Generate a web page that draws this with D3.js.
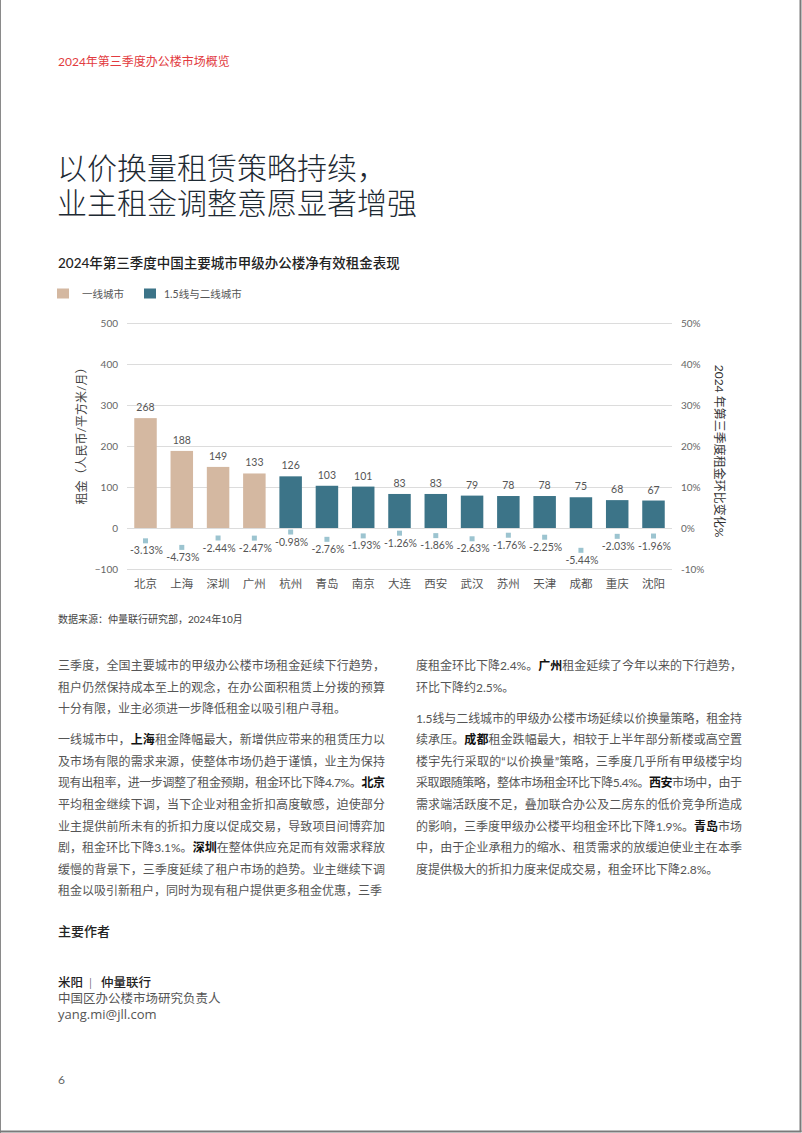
<!DOCTYPE html>
<html lang="zh">
<head>
<meta charset="UTF-8">
<title>2024年第三季度办公楼市场概览</title>
<script src="https://d3js.org/d3.v7.min.js"></script>
<style>
  body { margin: 0; background: #fff; }
  svg { display: block; font-family: Lato, "Noto Sans CJK SC", sans-serif; }
</style>
</head>
<body>
<div id="page"></div>
<script>
// chart data
const cities = ["北京", "上海", "深圳", "广州", "杭州", "青岛", "南京", "大连", "西安", "武汉", "苏州", "天津", "成都", "重庆", "沈阳"];
const rents = [268, 188, 149, 133, 126, 103, 101, 83, 83, 79, 78, 78, 75, 68, 67];
const changes = [-3.13, -4.73, -2.44, -2.47, -0.98, -2.76, -1.93, -1.26, -1.86, -2.63, -1.76, -2.25, -5.44, -2.03, -1.96];
const tiers = ["一线城市", "一线城市", "一线城市", "一线城市", "1.5线与二线城市", "1.5线与二线城市", "1.5线与二线城市", "1.5线与二线城市", "1.5线与二线城市", "1.5线与二线城市", "1.5线与二线城市", "1.5线与二线城市", "1.5线与二线城市", "1.5线与二线城市", "1.5线与二线城市"];
const tierNames = ["一线城市", "1.5线与二线城市"];
const rentTicks = [-100, 0, 100, 200, 300, 400, 500];
const pctTicks = [-10, 0, 10, 20, 30, 40, 50];

// body text, one entry per printed line; **x** marks bold
const leftLines = [
  ["三季度，全国主要城市的甲级办公楼市场租金延续下行趋势，", "租户仍然保持成本至上的观念，在办公面积租赁上分拨的预算", "十分有限，业主必须进一步降低租金以吸引租户寻租。"],
  ["一线城市中，**上海**租金降幅最大，新增供应带来的租赁压力以", "及市场有限的需求来源，使整体市场仍趋于谨慎，业主为保持", "现有出租率，进一步调整了租金预期，租金环比下降4.7%。**北京**", "平均租金继续下调，当下企业对租金折扣高度敏感，迫使部分", "业主提供前所未有的折扣力度以促成交易，导致项目间博弈加", "剧，租金环比下降3.1%。**深圳**在整体供应充足而有效需求释放", "缓慢的背景下，三季度延续了租户市场的趋势。业主继续下调", "租金以吸引新租户，同时为现有租户提供更多租金优惠，三季"]
];
const rightLines = [
  ["度租金环比下降2.4%。**广州**租金延续了今年以来的下行趋势，", "环比下降约2.5%。"],
  ["1.5线与二线城市的甲级办公楼市场延续以价换量策略，租金持", "续承压。**成都**租金跌幅最大，相较于上半年部分新楼或高空置", "楼宇先行采取的“以价换量”策略，三季度几乎所有甲级楼宇均", "采取跟随策略，整体市场租金环比下降5.4%。**西安**市场中，由于", "需求端活跃度不足，叠加联合办公及二房东的低价竞争所造成", "的影响，三季度甲级办公楼平均租金环比下降1.9%。**青岛**市场", "中，由于企业承租力的缩水、租赁需求的放缓迫使业主在本季", "度提供极大的折扣力度来促成交易，租金环比下降2.8%。"]
];

const W = 802, H = 1133;
const tierColor = d3.scaleOrdinal().domain(tierNames).range(["#d4b8a1", "#3c7488"]);

const svg = d3.select("#page").append("svg")
  .attr("width", W).attr("height", H);

// page frame
svg.append("line").attr("x1", 0.5).attr("x2", 0.5).attr("y1", 0).attr("y2", H).attr("stroke", "#8a8a8a").attr("stroke-width", 1);
svg.append("line").attr("x1", 800.5).attr("x2", 800.5).attr("y1", 0).attr("y2", 1132).attr("stroke", "#7a7a7a").attr("stroke-width", 2);
svg.append("line").attr("x1", 0).attr("x2", 801.5).attr("y1", 1131.5).attr("y2", 1131.5).attr("stroke", "#7a7a7a").attr("stroke-width", 2);

// header + titles
svg.append("text").attr("x", 58).attr("y", 66).attr("font-size", 12).attr("fill", "#e23b40")
  .text("2024年第三季度办公楼市场概览");
svg.append("text").attr("x", 57).attr("y", 179).attr("font-size", 30).attr("font-weight", 300).attr("fill", "#1e2a33")
  .text("以价换量租赁策略持续，");
svg.append("text").attr("x", 57).attr("y", 214).attr("font-size", 30).attr("font-weight", 300).attr("fill", "#1e2a33")
  .text("业主租金调整意愿显著增强");
svg.append("text").attr("x", 58).attr("y", 268).attr("font-size", 13.5).attr("font-weight", 500).attr("fill", "#222")
  .text("2024年第三季度中国主要城市甲级办公楼净有效租金表现");

// legend
const legendX = [57, 144];
tierNames.forEach((t, i) => {
  svg.append("rect").attr("x", legendX[i]).attr("y", 288.5).attr("width", 12).attr("height", 10).attr("fill", tierColor(t));
  svg.append("text").attr("x", legendX[i] + (i === 0 ? 25 : 20)).attr("y", 297.5).attr("font-size", 10.5).attr("fill", "#555").text(t);
});

// chart
const x = d3.scaleBand().domain(cities).range([127, 672]).paddingInner(0.38).paddingOuter(0.2);
const y = d3.scaleLinear().domain([-100, 500]).range([569, 323]);
const y2 = d3.scaleLinear().domain([-10, 50]).range([569, 323]);

const grid = svg.append("g").attr("transform", "translate(127,0)")
  .call(d3.axisLeft(y).tickValues(rentTicks).tickSize(-545).tickFormat(""));
grid.select(".domain").remove();
grid.selectAll("line").attr("stroke", "#dcdcdc");

const yAxis = svg.append("g").attr("transform", "translate(127,0)")
  .call(d3.axisLeft(y).tickValues(rentTicks).tickSize(0).tickPadding(9));
yAxis.select(".domain").remove();
yAxis.selectAll("text").attr("font-size", 10).attr("fill", "#666").attr("font-family", "Lato, sans-serif");

const y2Axis = svg.append("g").attr("transform", "translate(672,0)")
  .call(d3.axisRight(y2).tickValues(pctTicks).tickSize(0).tickPadding(9).tickFormat(d => d + "%"));
y2Axis.select(".domain").remove();
y2Axis.selectAll("text").attr("font-size", 10).attr("fill", "#666").attr("font-family", "Lato, sans-serif");

const xAxis = svg.append("g").attr("transform", "translate(0,569)")
  .call(d3.axisBottom(x).tickSize(0).tickPadding(11));
xAxis.select(".domain").remove();
xAxis.selectAll("text").attr("font-size", 11.5).attr("fill", "#555").attr("font-family", "Noto Sans CJK SC, sans-serif");

// axis titles
svg.append("text").attr("transform", "translate(86,433) rotate(-90)").attr("text-anchor", "middle")
  .attr("font-size", 12).attr("fill", "#444").text("租金（人民币/平方米/月）");
svg.append("text").attr("transform", "translate(715,451) rotate(90)").attr("text-anchor", "middle")
  .attr("font-size", 12).attr("fill", "#333").text("2024 年第三季度租金环比变化%");

const rows = cities.map((c, i) => ({ city: c, rent: rents[i], change: changes[i], tier: tiers[i] }));

svg.selectAll(".bar").data(rows).enter().append("rect")
  .attr("class", "bar")
  .attr("x", d => x(d.city))
  .attr("width", x.bandwidth())
  .attr("y", d => y(d.rent))
  .attr("height", d => y(0) - y(d.rent))
  .attr("fill", d => tierColor(d.tier));

svg.selectAll(".val").data(rows).enter().append("text")
  .attr("class", "val")
  .attr("x", d => x(d.city) + x.bandwidth() / 2)
  .attr("y", d => y(d.rent) - 7)
  .attr("text-anchor", "middle")
  .attr("font-size", 10.5).attr("fill", "#555")
  .text(d => d.rent);

svg.selectAll(".mk").data(rows).enter().append("rect")
  .attr("class", "mk")
  .attr("x", d => x(d.city) + x.bandwidth() / 2 - 2.5)
  .attr("y", d => y2(d.change) - 2.5)
  .attr("width", 5).attr("height", 5)
  .attr("fill", "#9cc4d0");

svg.selectAll(".pct").data(rows).enter().append("text")
  .attr("class", "pct")
  .attr("x", d => x(d.city) + x.bandwidth() / 2 + 1)
  .attr("y", d => y2(d.change) + 13.5)
  .attr("text-anchor", "middle")
  .attr("font-size", 10.5).attr("fill", "#555")
  .text(d => d.change.toFixed(2) + "%");

svg.append("text").attr("x", 58).attr("y", 623).attr("font-size", 10).attr("fill", "#444")
  .text("数据来源：仲量联行研究部，2024年10月");

// body text columns
function drawColumn(paras, x0, width) {
  let yy = 670;
  paras.forEach((lines, pi) => {
    lines.forEach((line, li) => {
      const t = svg.append("text").attr("x", x0).attr("y", yy)
        .attr("font-size", 12).attr("fill", "#555");
      line.split("**").forEach((part, k) => {
        if (!part) return;
        const s = t.append("tspan").text(part);
        if (k % 2 === 1) s.attr("font-weight", 700).attr("fill", "#111");
      });
      const last = li === lines.length - 1;
      if (!last) t.attr("textLength", width).attr("lengthAdjust", "spacing");
      yy += 21.6;
    });
    yy += 9.4;
  });
}
drawColumn(leftLines, 58, 327);
drawColumn(rightLines, 416, 326);

// authors
svg.append("text").attr("x", 58).attr("y", 936).attr("font-size", 13).attr("font-weight", 500).attr("fill", "#222").text("主要作者");
const au = svg.append("text").attr("x", 58).attr("y", 986.5).attr("font-size", 12.5).attr("font-weight", 500).attr("fill", "#222");
au.append("tspan").text("米阳");
au.append("tspan").attr("x", 89).attr("font-weight", 300).text("|");
au.append("tspan").attr("x", 101).text("仲量联行");
svg.append("text").attr("x", 58).attr("y", 1003).attr("font-size", 12.5).attr("fill", "#555").text("中国区办公楼市场研究负责人");
svg.append("text").attr("x", 58).attr("y", 1019).attr("font-size", 13).attr("fill", "#555").attr("font-family", "'Open Sans', sans-serif").text("yang.mi@jll.com");
svg.append("text").attr("x", 58).attr("y", 1084).attr("font-size", 12).attr("fill", "#666").text("6");
</script>
</body>
</html>
